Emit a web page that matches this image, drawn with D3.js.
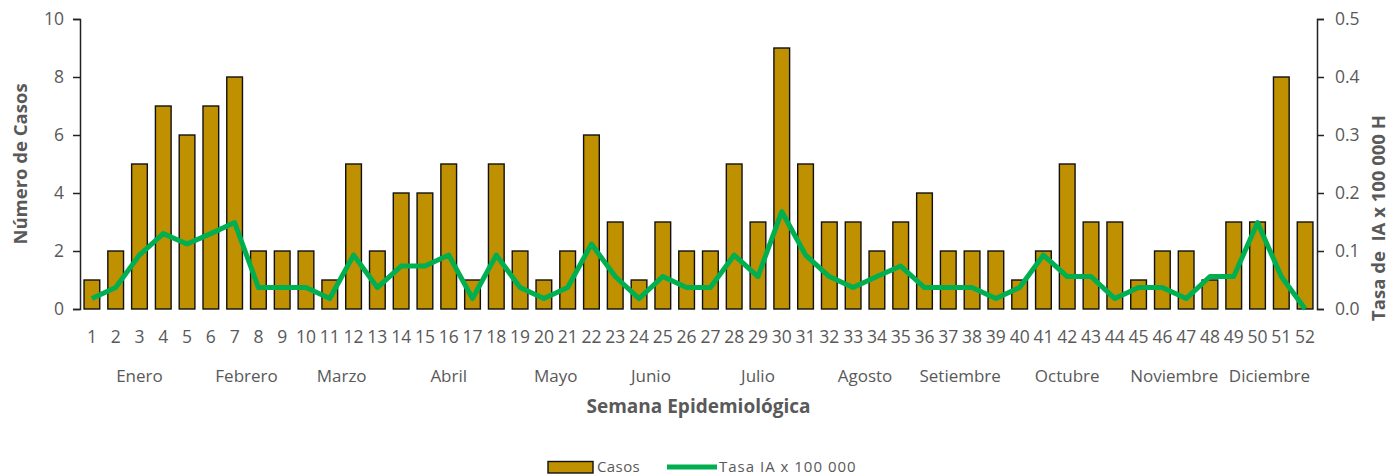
<!DOCTYPE html>
<html>
<head>
<meta charset="utf-8">
<script src="https://cdn.jsdelivr.net/npm/d3@7"></script>
<style>
  html, body { margin: 0; padding: 0; background: #fff; }
  svg { display: block; font-family: "Open Sans", sans-serif; }
</style>
</head>
<body>
<svg id="chart" width="1400" height="476"></svg>
<script>
// Semanas epidemiológicas 1–52
const semanas = d3.range(1, 53);

// Casos por semana
const casos = [1, 2, 5, 7, 6, 7, 8, 2, 2, 2, 1, 5, 2, 4, 4, 5, 1, 5, 2, 1,
               2, 6, 3, 1, 3, 2, 2, 5, 3, 9, 5, 3, 3, 2, 3, 4, 2, 2, 2, 1,
               2, 5, 3, 3, 1, 2, 2, 1, 3, 3, 8, 3];

// Tasa de incidencia acumulada x 100 000 habitantes
const tasa = [0.018, 0.037, 0.093, 0.130, 0.112, 0.130, 0.149, 0.037, 0.037, 0.037,
              0.018, 0.093, 0.037, 0.074, 0.074, 0.093, 0.018, 0.093, 0.037, 0.018,
              0.037, 0.112, 0.056, 0.018, 0.056, 0.037, 0.037, 0.093, 0.056, 0.168,
              0.093, 0.056, 0.037, 0.056, 0.074, 0.037, 0.037, 0.037, 0.018, 0.037,
              0.093, 0.056, 0.056, 0.018, 0.037, 0.037, 0.018, 0.056, 0.056, 0.149,
              0.056, 0.000];

// Meses y número de semanas que agrupa cada uno
const meses = ["Enero", "Febrero", "Marzo", "Abril", "Mayo", "Junio", "Julio",
               "Agosto", "Setiembre", "Octubre", "Noviembre", "Diciembre"];
const semanasPorMes = [5, 4, 4, 5, 4, 4, 5, 4, 4, 5, 4, 4];

// Marcas de los ejes
const ticksCasos = [0, 2, 4, 6, 8, 10];
const ticksTasa = [0, 0.1, 0.2, 0.3, 0.4, 0.5];

const textColor = "#595959";
const barColor = "#BF9000";
const lineColor = "#00B050";

const plot = { left: 80, right: 1317, top: 19, bottom: 309 };

const svg = d3.select("#chart");

const x = d3.scaleBand()
  .domain(semanas)
  .range([plot.left, plot.right])
  .paddingInner(0.34)
  .paddingOuter(0.17);

const yCasos = d3.scaleLinear().domain([0, 10]).range([plot.bottom, plot.top]);
const yTasa = d3.scaleLinear().domain([0, 0.5]).range([plot.bottom, plot.top]);

// Barras de casos
svg.append("g")
  .selectAll("rect")
  .data(semanas)
  .join("rect")
  .attr("x", d => x(d))
  .attr("y", (d, i) => yCasos(casos[i]))
  .attr("width", x.bandwidth())
  .attr("height", (d, i) => yCasos(0) - yCasos(casos[i]))
  .attr("fill", barColor)
  .attr("stroke", "#111")
  .attr("stroke-width", 1.4);

// Línea de tasa
const line = d3.line()
  .x((d, i) => x(semanas[i]) + x.bandwidth() / 2)
  .y(d => yTasa(d));

svg.append("path")
  .datum(tasa)
  .attr("d", line)
  .attr("fill", "none")
  .attr("stroke", lineColor)
  .attr("stroke-width", 5)
  .attr("stroke-linejoin", "round");

// Eje izquierdo
const axL = svg.append("g")
  .attr("transform", `translate(${plot.left},0)`)
  .call(d3.axisLeft(yCasos).tickValues(ticksCasos).tickSize(7).tickPadding(9).tickFormat(d3.format("d")));
axL.select(".domain").attr("stroke", "#222").attr("stroke-width", 1.5);
axL.selectAll(".tick line").attr("stroke", "#222").attr("stroke-width", 1.5);
axL.selectAll("text").attr("fill", textColor).style("font-size", "17.5px").style("font-family", "Open Sans");

// Eje derecho
const axR = svg.append("g")
  .attr("transform", `translate(${plot.right},0)`)
  .call(d3.axisRight(yTasa).tickValues(ticksTasa).tickSize(7).tickPadding(11).tickFormat(d3.format(".1f")));
axR.select(".domain").attr("stroke", "#222").attr("stroke-width", 1.5);
axR.selectAll(".tick line").attr("stroke", "#222").attr("stroke-width", 1.5);
axR.selectAll("text").attr("fill", textColor).style("font-size", "17.5px").style("font-family", "Open Sans");

// Etiquetas de semana
const axB = svg.append("g")
  .attr("transform", `translate(0,${plot.bottom})`)
  .call(d3.axisBottom(x).tickSize(0).tickPadding(22));
axB.select(".domain").remove();
axB.selectAll("text").attr("fill", textColor).style("font-size", "17.5px").style("font-family", "Open Sans");

// Etiquetas de mes centradas sobre sus semanas
let acc = 0;
const posMes = semanasPorMes.map(n => {
  const first = semanas[acc], last = semanas[acc + n - 1];
  acc += n;
  const x0 = x(first) - x.step() * x.paddingInner() / 2;
  const x1 = x(last) + x.bandwidth() + x.step() * x.paddingInner() / 2;
  return (x0 + x1) / 2;
});
svg.append("g")
  .selectAll("text")
  .data(meses)
  .join("text")
  .attr("x", (d, i) => posMes[i])
  .attr("y", 382)
  .attr("text-anchor", "middle")
  .attr("fill", textColor)
  .style("font-size", "17px")
  .text(d => d);

// Títulos de ejes
svg.append("text")
  .attr("x", (plot.left + plot.right) / 2)
  .attr("y", 413)
  .attr("text-anchor", "middle")
  .attr("fill", textColor)
  .style("font-size", "19px")
  .style("font-weight", "bold")
  .text("Semana Epidemiológica");

svg.append("text")
  .attr("transform", `translate(27,164) rotate(-90)`)
  .attr("text-anchor", "middle")
  .attr("fill", textColor)
  .style("font-size", "18.5px")
  .style("font-weight", "bold")
  .text("Número de Casos");

svg.append("text")
  .attr("transform", `translate(1385,218) rotate(-90)`)
  .attr("text-anchor", "middle")
  .attr("fill", textColor)
  .style("font-size", "18.5px")
  .style("font-weight", "bold")
  .style("white-space", "pre")
  .attr("xml:space", "preserve")
  .text("Tasa de  IA x 100 000 H");

// Leyenda
const leg = svg.append("g");
leg.append("rect")
  .attr("x", 548).attr("y", 461.5)
  .attr("width", 45).attr("height", 11.5)
  .attr("fill", barColor).attr("stroke", "#111").attr("stroke-width", 1.4);
leg.append("text")
  .attr("x", 597).attr("y", 471.5)
  .attr("fill", textColor).style("font-size", "15px")
  .style("letter-spacing", "0.4px")
  .text("Casos");
leg.append("line")
  .attr("x1", 667).attr("x2", 717).attr("y1", 467).attr("y2", 467)
  .attr("stroke", lineColor).attr("stroke-width", 5);
leg.append("text")
  .attr("x", 719).attr("y", 471.5)
  .attr("fill", textColor).style("font-size", "15px")
  .style("letter-spacing", "1px")
  .text("Tasa IA x 100 000");
</script>
</body>
</html>
